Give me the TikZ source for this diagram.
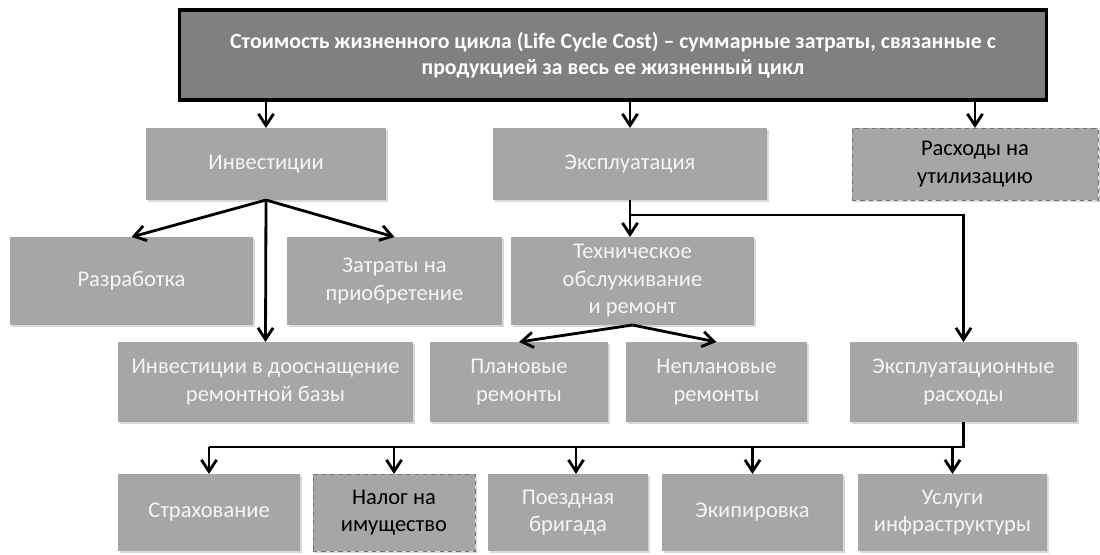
\documentclass[tikz,border=0pt]{standalone}
\usepackage{fontspec}
\setmainfont{Carlito}
\usetikzlibrary{arrows.meta, positioning, calc, shadows}

\begin{document}
\begin{tikzpicture}[
    x=0.025cm, y=-0.025cm,
    box/.style={fill=black!35, text=white!96!black, inner sep=2pt, outer sep=0pt, align=center,
                font=\fontsize{16}{19.5}\selectfont,
                drop shadow={shadow xshift=1.5pt, shadow yshift=-1.5pt, opacity=0.3}},
    dashbox/.style={box, draw=black!55, dashed, thin, text=black},
    topbox/.style={draw=black, line width=2.2pt, fill=black!50, text=white, align=center, inner sep=2pt,
                   font=\fontsize{15.5}{18.5}\selectfont\bfseries},
    arrowstyle/.style={-{Straight Barb[length=2.9mm, width=3.8mm]}, line width=2pt},
    linestyle/.style={line width=2pt},
]
    \useasboundingbox (0,0) rectangle (1100,554);

    % Top level
    \node[topbox, minimum width=21.65cm, minimum height=2.25cm] (lcc) at (613,55)
        {Стоимость жизненного цикла (Life Cycle Cost) – суммарные затраты, связанные с\\продукцией за весь ее жизненный цикл};

    % Second level
    \node[box, minimum width=6cm, minimum height=1.8cm] (inv) at (266,164) {Инвестиции};
    \node[box, minimum width=6.85cm, minimum height=1.8cm] (expl) at (630,164) {Эксплуатация};
    \node[dashbox, minimum width=6.15cm, minimum height=1.8cm] (util) at (975,164) {Расходы на\\утилизацию};

    % Third level
    \node[box, minimum width=6.075cm, minimum height=2.2cm] (razr) at (131.5,281) {Разработка};
    \node[box, minimum width=5.375cm, minimum height=2.2cm] (zatr) at (394.5,281) {Затраты на\\приобретение};
    \node[box, minimum width=6.075cm, minimum height=2.2cm] (tor) at (632.5,281) {Техническое\\обслуживание\\и ремонт};

    % Fourth level
    \node[box, minimum width=7.375cm, minimum height=2cm] (dosn) at (265.5,382) {Инвестиции в дооснащение\\ремонтной базы};
    \node[box, minimum width=4.45cm, minimum height=2cm] (plan) at (519,382) {Плановые\\ремонты};
    \node[box, minimum width=4.525cm, minimum height=2cm] (neplan) at (716.5,382) {Неплановые\\ремонты};
    \node[box, minimum width=5.675cm, minimum height=2cm] (exprs) at (963.5,382) {Эксплуатационные\\расходы};

    % Bottom level
    \node[box, minimum width=4.55cm, minimum height=1.925cm] (strah) at (209,512.5) {Страхование};
    \node[dashbox, minimum width=4.05cm, minimum height=1.925cm] (nalog) at (394,512.5) {Налог на\\имущество};
    \node[box, minimum width=4cm, minimum height=1.925cm] (poezd) at (568,512.5) {Поездная\\бригада};
    \node[box, minimum width=4.525cm, minimum height=1.925cm] (ekip) at (752.5,512.5) {Экипировка};
    \node[box, minimum width=4.725cm, minimum height=1.925cm] (usl) at (952.5,512.5) {Услуги\\инфраструктуры};

    % Connectors from the top box
    \draw[arrowstyle] (lcc.south -| inv.north) -- (inv.north);
    \draw[arrowstyle] (lcc.south -| expl.north) -- (expl.north);
    \draw[arrowstyle] (lcc.south -| util.north) -- (util.north);

    % Investments
    \draw[arrowstyle] (inv.south) -- (razr.north);
    \draw[arrowstyle] (inv.south) -- (zatr.north);
    \draw[arrowstyle] (inv.south) -- (dosn.north);

    % Operation
    \coordinate (split) at ($(expl.south)+(0,15)$);
    \draw[arrowstyle] (expl.south) -- (expl.south |- tor.north);
    \draw[arrowstyle] (split) -| (exprs.north);
    \draw[arrowstyle] (tor.south) -- (plan.north);
    \draw[arrowstyle] (tor.south) -- (neplan.north);

    % Operating costs bus
    \coordinate (bus) at ($(exprs.south)+(0,25)$);
    \coordinate (poezdIn) at ([xshift=2mm]poezd.north);
    \draw[linestyle] (exprs.south) -- (bus) -- (bus -| strah.north);
    \foreach \n in {strah, nalog, poezdIn, ekip, usl}
        \draw[arrowstyle] (bus -| \n) -- (\n |- poezd.north);

\end{tikzpicture}
\end{document}
